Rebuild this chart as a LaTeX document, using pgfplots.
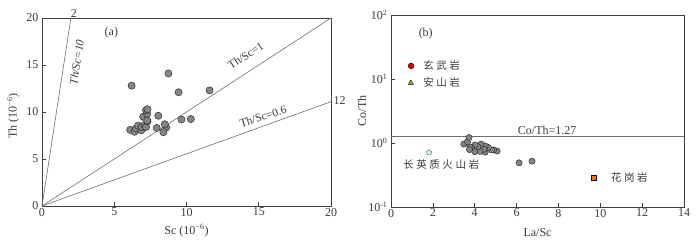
\documentclass[border=0pt]{standalone}
\usepackage{pgfplots}
\pgfplotsset{compat=1.18}
\usepackage{fontspec}
\setmainfont{Liberation Serif}
\newfontfamily\cjk[LetterSpace=24]{Noto Sans CJK SC}
\definecolor{ptfill}{HTML}{858585}
\definecolor{ptdraw}{HTML}{2E2E2E}
\definecolor{lncol}{HTML}{6E6E6E}
\definecolor{txtcol}{HTML}{3A3A3A}
\pgfplotsset{
  myax/.style={
    scale only axis, anchor=south west, clip=false,
    tick align=inside, tick pos=left, major tick length=4pt,
    axis line style={draw=black!75, line width=0.7pt},
    every tick/.style={black!75, line width=0.6pt},
    font=\fontsize{12}{14}\selectfont,
    tick label style={text=txtcol},
    label style={text=txtcol},
    /pgf/number format/assume math mode=true,
  }
}
\begin{document}
\begin{tikzpicture}
\path[use as bounding box] (0pt,0pt) rectangle (700pt,244pt);
% ---------------- (a) ----------------
\begin{axis}[myax, at={(42pt,38pt)}, width=289pt, height=188pt,
  xmin=0, xmax=20, ymin=0, ymax=20,
  xtick={0,5,10,15,20}, ytick={0,5,10,15,20},
  xticklabel style={yshift=1.5pt},
  xlabel={Sc (10\textsuperscript{−6})},
  ylabel={Th (10\textsuperscript{−6})},
  xlabel style={at={(axis description cs:0.5,-0.131)}, anchor=center},
  ylabel style={at={(axis description cs:-0.100,0.48)}, anchor=center},
]
\addplot[lncol, line width=0.6pt] coordinates {(0,0) (2,20)};
\addplot[lncol, line width=0.6pt] coordinates {(0,0) (20,20)};
\addplot[lncol, line width=0.6pt] coordinates {(0,0) (20,11.1)};
\addplot[only marks, mark=*, mark size=3.6pt, mark options={fill=ptfill, draw=ptdraw, line width=0.5pt}]
coordinates {
(6.2,12.8) (8.75,14.1) (9.45,12.1) (11.6,12.3) (9.65,9.2) (10.3,9.25)
(8.05,9.6) (7.94,8.3) (8.6,8.35) (8.4,7.85) (8.5,8.7)
(6.1,8.1) (6.4,7.9) (6.5,8.25) (6.87,8.05) (6.65,8.55) (6.9,8.4)
(7.1,8.6) (7.2,8.4) (7.0,9.5) (7.28,9.8) (7.2,10.2) (7.3,9.0) (7.28,9.1) (7.3,10.3)
};
\node[text=txtcol, rotate=81, font=\fontsize{11.5}{13}\selectfont\itshape] at (axis cs:2.4,15.3) {Th/Sc=10};
\node[text=txtcol, rotate=33, font=\fontsize{11.5}{13}\selectfont] at (axis cs:14.1,16.0) {Th/Sc=1};
\node[text=txtcol, rotate=18, font=\fontsize{11.5}{13}\selectfont] at (axis cs:15.3,9.5) {Th/Sc=0.6};
\node[text=txtcol, anchor=west, inner sep=1pt] at (axis cs:20.1,11.2) {12};
\node[text=txtcol, anchor=south, inner sep=1pt] at (axis cs:2.2,19.9) {2};
\node[text=txtcol] at (axis cs:4.8,18.4) {(a)};
\end{axis}
% ---------------- (b) ----------------
\begin{axis}[myax, at={(391pt,37pt)}, width=293pt, height=192pt,
  xmin=0, xmax=14, ymin=0.1, ymax=100, ymode=log,
  xtick={0,2,4,6,8,10,12,14},
  ytick={0.1,1,10,100},
  yticklabels={10\textsuperscript{-1},10\textsuperscript{0},10\textsuperscript{1},10\textsuperscript{2}},
  yminorticks=false,
  xticklabel style={yshift=1.5pt},
  xlabel={La/Sc}, ylabel={Co/Th},
  xlabel style={at={(axis description cs:0.5,-0.135)}, anchor=center},
  ylabel style={at={(axis description cs:-0.099,0.5)}, anchor=center},
]
\addplot[lncol, line width=0.7pt] coordinates {(0,1.27) (14,1.27)};
\addplot[only marks, mark=*, mark size=3.1pt, mark options={fill=ptfill, draw=ptdraw, line width=0.5pt}]
coordinates {
(6.12,0.49) (6.74,0.52)
(5.07,0.75) (4.9,0.78) (4.8,0.78) (4.65,0.85) (4.5,0.72) (4.5,0.90) (4.45,0.8)
(4.3,0.96) (4.25,0.74) (4.15,0.87) (4.02,0.93) (4.0,0.73) (3.85,0.85)
(3.77,0.87) (3.75,0.79) (3.48,0.96) (3.65,1.04) (3.73,1.22)
};
\addplot[only marks, mark=*, mark size=2.9pt, mark options={fill=red!90!black, draw=black, line width=0.4pt}] coordinates {(0.96,16)};
\addplot[only marks, mark=triangle*, mark size=2.9pt, mark options={fill=olive!60!yellow!70!gray, draw=black, line width=0.4pt}] coordinates {(0.95,8.7)};
\addplot[only marks, mark=pentagon*, mark size=2.7pt, mark options={fill=green!25!cyan!20!white, draw=black!70, line width=0.4pt}] coordinates {(1.82,0.71)};
\addplot[only marks, mark=square*, mark size=2.4pt, mark options={fill=orange!90!red, draw=black, line width=0.4pt}] coordinates {(9.7,0.29)};
\node[text=txtcol, anchor=west, font=\cjk\fontsize{10.5}{12}\selectfont] at (axis cs:1.38,16) {玄武岩};
\node[text=txtcol, anchor=west, font=\cjk\fontsize{10.5}{12}\selectfont] at (axis cs:1.38,8.7) {安山岩};
\node[text=txtcol, font=\cjk\fontsize{10.5}{12}\selectfont] at (axis cs:2.4,0.46) {长英质火山岩};
\node[text=txtcol, anchor=west, font=\cjk\fontsize{10.5}{12}\selectfont] at (axis cs:10.35,0.29) {花岗岩};
\node[text=txtcol, anchor=south, inner sep=1.5pt] at (axis cs:7.46,1.27) {Co/Th=1.27};
\node[text=txtcol] at (axis cs:1.66,52) {(b)};
\end{axis}
\end{tikzpicture}
\end{document}
